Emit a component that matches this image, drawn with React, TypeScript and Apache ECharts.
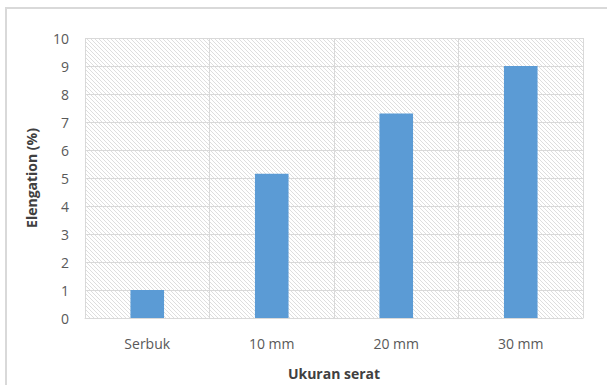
import React, { useEffect, useRef } from "react";
import * as echarts from "echarts";

const categories = ["Serbuk", "10 mm", "20 mm", "30 mm"];
const values = [1.0, 5.15, 7.3, 9.0];
const yMin = 0;
const yMax = 10;
const yInterval = 1;
const xTitle = "Ukuran serat";
const yTitle = "Elengation (%)";

function makeHatch(): string {
  const c = document.createElement("canvas");
  c.width = 4;
  c.height = 4;
  const ctx = c.getContext("2d")!;
  ctx.fillStyle = "#ffffff";
  ctx.fillRect(0, 0, 4, 4);
  ctx.strokeStyle = "#dedede";
  ctx.lineWidth = 1;
  ctx.beginPath();
  ctx.moveTo(-1, -1);
  ctx.lineTo(5, 5);
  ctx.moveTo(-1, 3);
  ctx.lineTo(1, 5);
  ctx.moveTo(3, -1);
  ctx.lineTo(5, 1);
  ctx.stroke();
  return c.toDataURL();
}

export default function App() {
  const ref = useRef<HTMLDivElement>(null);
  useEffect(() => {
    if (!ref.current) return;
    const chart = echarts.init(ref.current, null, { renderer: "svg" });
    const hatch = makeHatch();
    const font = "'Open Sans', 'Liberation Sans', sans-serif";
    chart.setOption({
      animation: false,
      backgroundColor: "#ffffff",
      textStyle: { fontFamily: font },
      grid: {
        left: 85,
        right: 24,
        top: 38,
        bottom: 65,
        show: true,
        backgroundColor: { image: hatch, repeat: "repeat" } as any,
        borderWidth: 0,
      },
      graphic: [
        {
          type: "rect",
          shape: { x: 6, y: 8, width: 700, height: 500 },
          style: { fill: "none", stroke: "#d9d9d9", lineWidth: 2 },
          silent: true,
          z: -10,
        },
      ],
      xAxis: {
        type: "category",
        data: categories,
        name: xTitle,
        nameLocation: "middle",
        nameGap: 48,
        nameTextStyle: { color: "#404040", fontSize: 14, fontWeight: "bold", fontFamily: font },
        axisLine: { show: true, lineStyle: { color: "#d9d9d9", width: 1 } },
        axisTick: { show: false },
        axisLabel: { color: "#595959", fontSize: 14, margin: 18, fontFamily: font },
        splitLine: { show: true, lineStyle: { color: "#d9d9d9", width: 1 } },
      },
      yAxis: {
        type: "value",
        min: yMin,
        max: yMax,
        interval: yInterval,
        name: yTitle,
        nameLocation: "middle",
        nameGap: 47,
        nameRotate: 90,
        nameTextStyle: { color: "#404040", fontSize: 14, fontWeight: "bold", fontFamily: font },
        axisLine: { show: false },
        axisTick: { show: false },
        axisLabel: { color: "#595959", fontSize: 14, margin: 16, fontFamily: font },
        splitLine: { show: true, lineStyle: { color: "#d9d9d9", width: 1 } },
      },
      series: [
        {
          type: "bar",
          data: values,
          barWidth: "27%",
          itemStyle: { color: "#5b9bd5" },
        },
      ],
    });
    return () => chart.dispose();
  }, []);
  return (
    <div
      ref={ref}
      style={{ position: "absolute", left: 0, top: 0, width: 607, height: 385 }}
    />
  );
}
